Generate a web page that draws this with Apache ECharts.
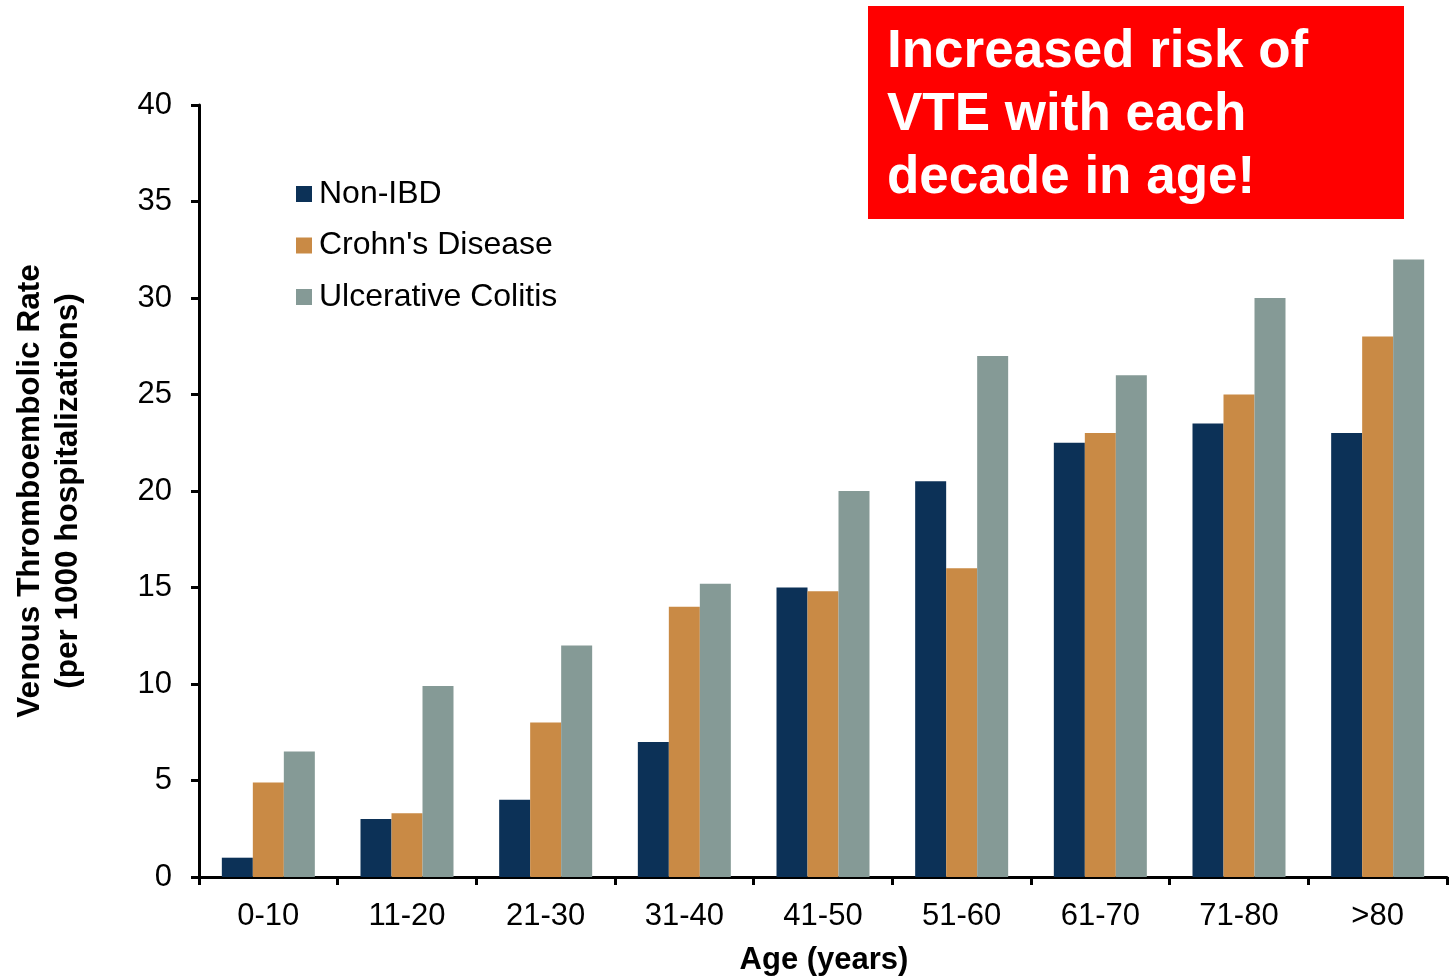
<!DOCTYPE html>
<html>
<head>
<meta charset="utf-8">
<script src="https://cdn.jsdelivr.net/npm/echarts@6/dist/echarts.min.js"></script>
<style>
  html, body { margin: 0; padding: 0; background: #fff; }
  #main { width: 1449px; height: 977px; }
</style>
</head>
<body>
<div id="main"></div>
<script>
const ageGroups = ["0-10", "11-20", "21-30", "31-40", "41-50", "51-60", "61-70", "71-80", ">80"];
const nonIbd = [1, 3, 4, 7, 15, 20.5, 22.5, 23.5, 23];
const crohns = [4.9, 3.3, 8, 14, 14.8, 16, 23, 25, 28];
const ulcerative = [6.5, 9.9, 12, 15.2, 20, 27, 26, 30, 32];
const yTicks = [0, 5, 10, 15, 20, 25, 30, 35, 40];

const chart = echarts.init(document.getElementById("main"));
const font = "Liberation Sans, Arial, sans-serif";

const option = {
  animation: false,
  textStyle: { fontFamily: font },
  grid: { left: 199, right: 2, top: 105, bottom: 100, containLabel: false, outerBoundsMode: "none" },
  legend: {
    orient: "vertical",
    left: 296,
    top: 178,
    padding: 0,
    itemWidth: 16,
    itemHeight: 16,
    itemGap: 19.5,
    icon: "rect",
    textStyle: { fontSize: 32, color: "#000", fontFamily: font, padding: [0, 0, 0, 2] },
    data: ["Non-IBD", "Crohn's Disease", "Ulcerative Colitis"]
  },
  xAxis: {
    type: "category",
    data: ageGroups,
    axisLine: { lineStyle: { color: "#000", width: 3 } },
    axisTick: { show: true, length: 8, lineStyle: { color: "#000", width: 3 } },
    axisLabel: { fontSize: 31, color: "#000", margin: 24 }
  },
  yAxis: {
    type: "value",
    min: yTicks[0],
    max: yTicks[yTicks.length - 1],
    interval: 5,
    splitLine: { show: false },
    axisLine: { show: true, lineStyle: { color: "#000", width: 3 } },
    axisTick: { show: true, length: 8, lineStyle: { color: "#000", width: 3 } },
    axisLabel: { fontSize: 31, color: "#000", margin: 27 }
  },
  series: [
    { name: "Non-IBD", type: "bar", data: nonIbd, barWidth: 31, barGap: "0%",
      itemStyle: { color: "#0c3157" } },
    { name: "Crohn's Disease", type: "bar", data: crohns, barWidth: 31,
      itemStyle: { color: "#c98a45" } },
    { name: "Ulcerative Colitis", type: "bar", data: ulcerative, barWidth: 31,
      itemStyle: { color: "#859a96" } }
  ],
  graphic: [
    {
      type: "text",
      x: 49,
      y: 491,
      rotation: Math.PI / 2,
      style: {
        text: "Venous Thromboembolic Rate\n(per 1000 hospitalizations)",
        font: "bold 31.5px " + font,
        fill: "#000",
        align: "center",
        verticalAlign: "middle",
        lineHeight: 38
      }
    },
    {
      type: "text",
      x: 824,
      y: 960,
      style: {
        text: "Age (years)",
        font: "bold 31px " + font,
        fill: "#000",
        align: "center",
        verticalAlign: "middle"
      }
    },
    {
      type: "rect",
      shape: { x: 868, y: 6, width: 536, height: 213 },
      style: { fill: "#ff0000" }
    },
    {
      type: "text",
      x: 887,
      y: 21,
      style: {
        text: "Increased risk of\nVTE with each\ndecade in age!",
        font: "bold 53px " + font,
        fill: "#fff",
        lineHeight: 63
      }
    }
  ]
};

chart.setOption(option);
</script>
</body>
</html>
